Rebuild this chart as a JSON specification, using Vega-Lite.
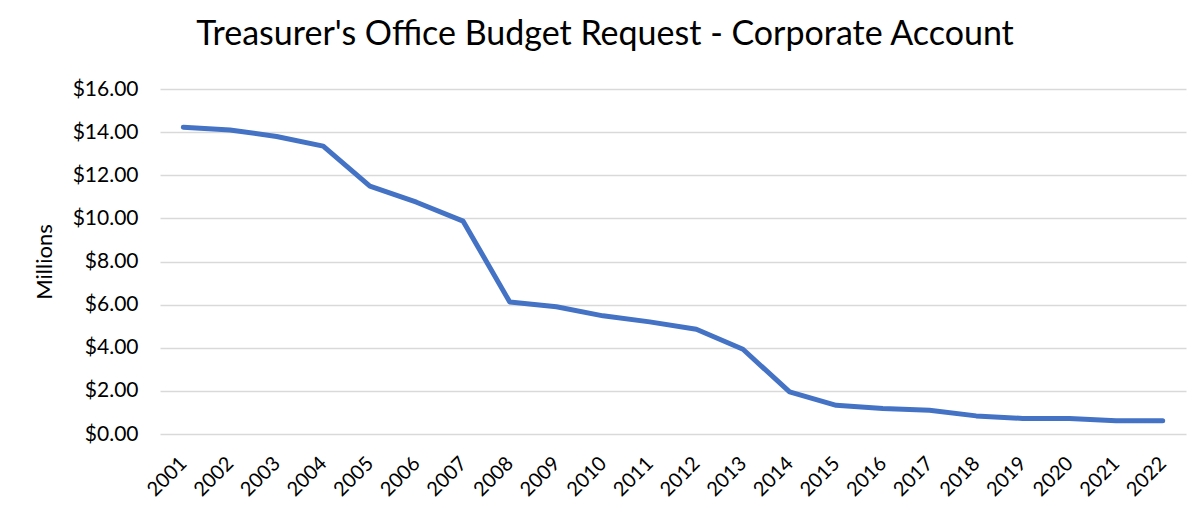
{
  "$schema": "https://vega.github.io/schema/vega-lite/v6.json",
  "autosize": {"type": "none"},
  "padding": {"left": 160, "top": 89, "right": 10, "bottom": 80},
  "width": 1026,
  "height": 345,
  "background": "white",
  "title": {
    "text": "Treasurer's Office Budget Request - Corporate Account",
    "font": "Lato",
    "fontSize": 34,
    "fontWeight": "normal",
    "color": "#000000",
    "anchor": "middle",
    "dx": -68,
    "offset": 26
  },
  "data": {
    "values": [
      {"year": "2001", "value": 14.23},
      {"year": "2002", "value": 14.1},
      {"year": "2003", "value": 13.8},
      {"year": "2004", "value": 13.35},
      {"year": "2005", "value": 11.5},
      {"year": "2006", "value": 10.75},
      {"year": "2007", "value": 9.87},
      {"year": "2008", "value": 6.12},
      {"year": "2009", "value": 5.9},
      {"year": "2010", "value": 5.48},
      {"year": "2011", "value": 5.2},
      {"year": "2012", "value": 4.86},
      {"year": "2013", "value": 3.93},
      {"year": "2014", "value": 1.95},
      {"year": "2015", "value": 1.33},
      {"year": "2016", "value": 1.18},
      {"year": "2017", "value": 1.1},
      {"year": "2018", "value": 0.84},
      {"year": "2019", "value": 0.72},
      {"year": "2020", "value": 0.72},
      {"year": "2021", "value": 0.62},
      {"year": "2022", "value": 0.62}
    ]
  },
  "mark": {"type": "line", "color": "#4472C4", "strokeWidth": 5, "strokeCap": "round", "strokeJoin": "round"},
  "encoding": {
    "x": {
      "field": "year",
      "type": "ordinal",
      "scale": {"padding": 0.5},
      "axis": {
        "title": null,
        "labelAngle": -45,
        "labelAlign": "right",
        "labelBaseline": "middle",
        "labelFont": "Lato",
        "labelFontSize": 20,
        "labelColor": "#000000",
        "labelPadding": 26,
        "ticks": false,
        "domain": false,
        "grid": false
      }
    },
    "y": {
      "field": "value",
      "type": "quantitative",
      "scale": {"domain": [0, 16], "nice": false},
      "axis": {
        "title": "Millions",
        "titleFont": "Lato",
        "titleFontSize": 22,
        "titleFontWeight": "normal",
        "titleColor": "#000000",
        "titlePadding": 16,
        "format": "$.2f",
        "values": [0, 2, 4, 6, 8, 10, 12, 14, 16],
        "labelFont": "Lato",
        "labelFontSize": 21,
        "labelColor": "#000000",
        "labelPadding": 22,
        "ticks": false,
        "domain": false,
        "grid": true,
        "gridColor": "#d9d9d9",
        "gridWidth": 1.5
      }
    }
  },
  "config": {"view": {"stroke": null}}
}
